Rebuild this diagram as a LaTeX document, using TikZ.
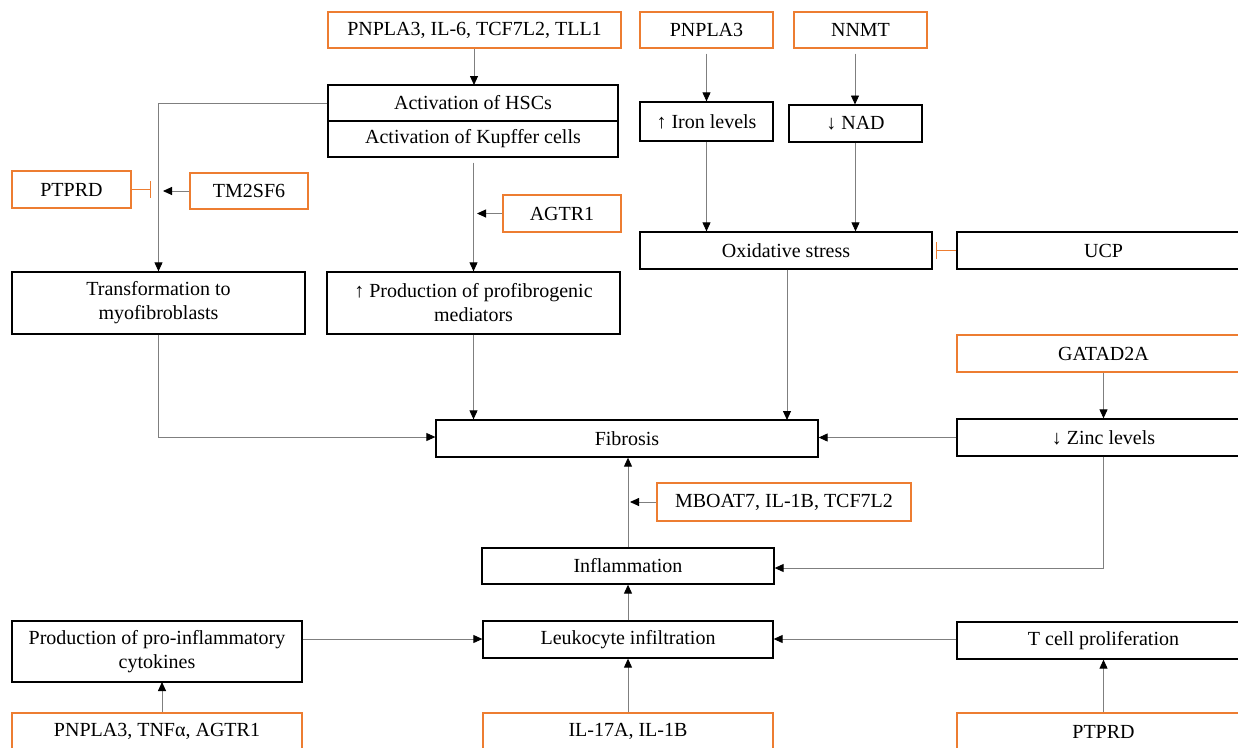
\documentclass[tikz,border=0pt]{standalone}
\usepackage{fontspec}
\setmainfont{Liberation Serif}
\usetikzlibrary{arrows.meta}
\definecolor{org}{HTML}{ED7D31}
\definecolor{lgray}{HTML}{7F7F7F}
\begin{document}
\begin{tikzpicture}[x=1pt,y=-1pt,
  box/.style={draw=black,line width=1.3pt,inner sep=0pt,align=center,
    font=\fontsize{20}{24}\selectfont,text=black},
  obox/.style={box,draw=org},
  arr/.style={draw=lgray,line width=0.9pt,-{Triangle[length=9pt,width=8pt,black]}},
  inh/.style={draw=org,line width=1.3pt,-{Bar[width=17pt,org]}},
]
\useasboundingbox (0,0) rectangle (1238,747);
\fill[white] (0,0) rectangle (1238,747);
\clip (0,0) rectangle (1238,747);

% nodes
\node[obox,minimum width=293pt,minimum height=36pt] (top) at (474.5,30) {PNPLA3, IL-6, TCF7L2, TLL1};
\node[box,minimum width=290pt,minimum height=36pt] (hsc) at (473,103) {Activation of HSCs};
\node[box,minimum width=290pt,minimum height=36pt] (kup) at (473,139) {Activation of Kupffer cells};
\node[obox,minimum width=133pt,minimum height=36pt] (pn3) at (706.5,30) {PNPLA3};
\node[obox,minimum width=133pt,minimum height=36pt] (nnmt) at (860.5,30) {NNMT};
\node[box,minimum width=133pt,minimum height=39pt] (iron) at (706.5,121.5) {↑ Iron levels};
\node[box,minimum width=133pt,minimum height=37pt] (nad) at (855.5,123.5) {↓ NAD};
\node[obox,minimum width=119pt,minimum height=37pt] (ptp1) at (71.5,189.5) {PTPRD};
\node[obox,minimum width=118pt,minimum height=36pt] (tm2) at (249,191) {TM2SF6};
\node[obox,minimum width=118pt,minimum height=37pt] (agtr) at (562,213.5) {AGTR1};
\node[box,minimum width=292pt,minimum height=37pt] (oxi) at (786,250.5) {Oxidative stress};
\node[box,minimum width=293pt,minimum height=37pt] (ucp) at (1103.5,250.5) {UCP};
\node[box,minimum width=293pt,minimum height=62pt] (trf) at (158.5,303) {Transformation to\\myofibroblasts};
\node[box,minimum width=293pt,minimum height=62pt] (prod) at (473.5,303) {↑ Production of profibrogenic\\mediators};
\node[obox,minimum width=293pt,minimum height=37pt] (gat) at (1103.5,353.5) {GATAD2A};
\node[box,minimum width=382pt,minimum height=37pt] (fib) at (627,438.5) {Fibrosis};
\node[box,minimum width=293pt,minimum height=37pt] (zinc) at (1103.5,437.5) {↓ Zinc levels};
\node[obox,minimum width=254pt,minimum height=38pt] (mbo) at (784,502) {MBOAT7, IL-1B, TCF7L2};
\node[box,minimum width=292pt,minimum height=36pt] (infl) at (628,566) {Inflammation};
\node[box,minimum width=290pt,minimum height=61pt] (cyt) at (157,651.5) {Production of pro-inflammatory\\cytokines};
\node[box,minimum width=290pt,minimum height=37pt] (leuk) at (628,639.5) {Leukocyte infiltration};
\node[box,minimum width=293pt,minimum height=37pt] (tcell) at (1103.5,640.5) {T cell proliferation};
\node[obox,minimum width=290pt,minimum height=37pt] (b1) at (157,731.5) {PNPLA3, TNFα, AGTR1};
\node[obox,minimum width=290pt,minimum height=37pt] (b2) at (628,731.5) {IL-17A, IL-1B};
\node[obox,minimum width=293pt,minimum height=37pt] (b3) at (1103.5,731.5) {PTPRD};

% junction coordinates
\coordinate (j1) at (163,191);
\coordinate (j2) at (477,213.5);
\coordinate (j3) at (630,502);
\coordinate (i1) at (151,189.5);
\coordinate (i2) at (936,250.5);

% connectors
\draw[arr] (top.south -| 474,0) -- (474,85);
\draw[arr] (hsc.west) -| (trf.north);
\draw[arr] (tm2.west) -- (j1);
\draw[inh] (ptp1.east) -- (i1);
\draw[arr,shorten <=5pt] (kup.south -| prod.north) -- (prod.north);
\draw[arr] (agtr.west) -- (j2);
\draw[arr,shorten <=5pt] (pn3.south) -- (iron.north);
\draw[arr,shorten <=5pt] (nnmt.south -| 855,0) -- (855,104.5);
\draw[arr] (iron.south) -- (iron.south |- oxi.north);
\draw[arr] (nad.south) -- (nad.south |- oxi.north);
\draw[inh] (ucp.west) -- (i2);
\draw[arr] (oxi.south -| 787,0) -- (787,420);
\draw[arr] (trf.south) |- (fib.west |- 0,437);
\draw[arr] (prod.south) -- (prod.south |- fib.north);
\draw[arr] (gat.south) -- (zinc.north);
\draw[arr] (zinc.west) -- (fib.east |- zinc.west);
\draw[arr] (zinc.south) |- (infl.east |- 0,568);
\draw[arr] (infl.north) -- (infl.north |- fib.south);
\draw[arr] (mbo.west) -- (j3);
\draw[arr] (leuk.north) -- (infl.south);
\draw[arr] (cyt.east |- 0,639) -- (leuk.west |- 0,639);
\draw[arr] (tcell.west |- 0,639) -- (leuk.east |- 0,639);
\draw[arr] (b1.north -| 162,0) -- (162,682);
\draw[arr] (b2.north) -- (leuk.south);
\draw[arr] (b3.north) -- (tcell.south);
\end{tikzpicture}
\end{document}
